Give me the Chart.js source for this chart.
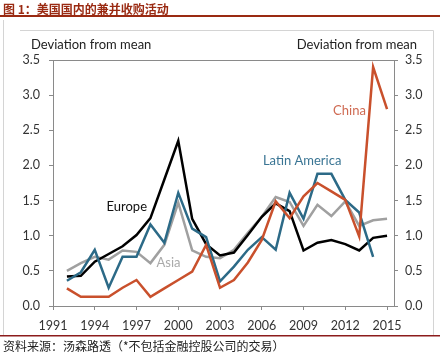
<!DOCTYPE html>
<html>
<head>
<meta charset="utf-8">
<script src="https://cdn.jsdelivr.net/npm/chart.js@4.4.1/dist/chart.umd.min.js"></script>
<style>
  html, body { margin: 0; padding: 0; background: #fff; }
  #wrap { position: relative; width: 440px; height: 355px; overflow: hidden; }
  #c { position: absolute; left: 0; top: 0; }
  #title { position: absolute; left: 3px; top: 0px; font: bold 12px "Noto Sans CJK SC", sans-serif; color: #9a2a12; line-height: 18px; white-space: nowrap; }
  #src { position: absolute; left: 3px; top: 337px; font: 12px "Noto Sans CJK SC", sans-serif; color: #222; line-height: 17px; white-space: nowrap; }
</style>
</head>
<body>
<div id="wrap">
  <canvas id="c" width="440" height="355"></canvas>
  <div id="title">图 1：美国国内的兼并收购活动</div>
  <div id="src">资料来源：汤森路透（*不包括金融控股公司的交易）</div>
</div>
<script>
const years = [1992,1993,1994,1995,1996,1997,1998,1999,2000,2001,2002,2003,2004,2005,2006,2007,2008,2009,2010,2011,2012,2013,2014,2015];
const europe = [0.42,0.43,0.63,0.74,0.85,1.01,1.25,1.80,2.35,1.24,0.88,0.72,0.76,1.01,1.27,1.46,1.35,0.79,0.90,0.94,0.88,0.79,0.97,1.00];
const latinAmerica = [0.36,0.48,0.80,0.26,0.70,0.70,1.16,0.90,1.61,1.10,0.98,0.35,0.56,0.80,0.98,0.80,1.61,1.24,1.88,1.88,1.51,1.33,0.70,null];
const asia = [0.50,0.61,0.70,0.66,0.79,0.77,0.61,0.87,1.47,0.79,0.70,0.68,0.80,1.04,1.27,1.55,1.48,1.14,1.44,1.28,1.49,1.14,1.22,1.24];
const china = [0.25,0.13,0.13,0.13,0.26,0.37,0.13,0.25,0.37,0.49,0.87,0.26,0.37,0.62,0.94,1.49,1.25,1.56,1.75,1.63,1.51,0.99,3.40,2.80];
const xTickLabels = [1991,1994,1997,2000,2003,2006,2009,2012,2015];
const yTickValues = [0,0.5,1,1.5,2,2.5,3,3.5];

const seriesNames = ['Europe','Latin America','Asia','China'];
const seriesColors = ['#000000','#2c6a87','#a0a0a0','#c9502c'];
const labelColors = ['#111111','#3a7594','#aaaaaa','#cf6a52'];
// label anchor points in data coordinates [year, value]
const labelYears = [1996.3, 2008.9, 1999.3, 2012.3];
const labelValues = [1.41, 2.07, 0.61, 2.77];

const seriesData = [europe, latinAmerica, asia, china];
const FONT = 'Lato, "Open Sans", sans-serif';

const datasets = seriesData.map((arr, i) => ({
  label: seriesNames[i],
  data: years.map((yr, j) => ({ x: yr, y: arr[j] })),
  borderColor: seriesColors[i],
  backgroundColor: seriesColors[i],
  borderWidth: 2.5,
  pointRadius: 0,
  tension: 0,
  spanGaps: false,
  yAxisID: 'y',
  order: [2,1,3,0][i]
}));

const decor = {
  id: 'decor',
  beforeDraw(chart) {
    const ctx = chart.ctx;
    ctx.save();
    ctx.fillStyle = '#9a2a12';
    ctx.fillRect(0, 15, 440, 2);
    ctx.strokeStyle = '#d4d4d4';
    ctx.lineWidth = 1;
    ctx.beginPath();
    ctx.moveTo(3.5, 20); ctx.lineTo(3.5, 336);
    ctx.moveTo(20, 30.5); ctx.lineTo(433.5, 30.5); ctx.lineTo(433.5, 336);
    ctx.stroke();
    ctx.fillStyle = '#8c1c1c';
    ctx.fillRect(0, 335, 440, 1.5);
    ctx.restore();
  },
  afterDraw(chart) {
    const ctx = chart.ctx;
    const a = chart.chartArea;
    const xs = chart.scales.x, ys = chart.scales.y;
    ctx.save();
    ctx.strokeStyle = '#8a8a8a';
    ctx.lineWidth = 1;
    ctx.beginPath();
    ctx.moveTo(a.left, Math.round(a.top) + 0.5);
    ctx.lineTo(a.right, Math.round(a.top) + 0.5);
    ctx.stroke();
    ctx.fillStyle = '#222';
    ctx.font = '13px ' + FONT;
    ctx.textBaseline = 'middle';
    ctx.textAlign = 'left';
    ctx.fillText('Deviation from mean', 31, 45);
    ctx.textAlign = 'right';
    ctx.fillText('Deviation from mean', 417, 45);
    ctx.textAlign = 'center';
    for (let i = 0; i < seriesNames.length; i++) {
      ctx.fillStyle = labelColors[i];
      ctx.fillText(seriesNames[i], xs.getPixelForValue(labelYears[i]), ys.getPixelForValue(labelValues[i]));
    }
    ctx.restore();
  }
};

const tickFont = { family: FONT, size: 12.5 };

new Chart(document.getElementById('c'), {
  type: 'line',
  data: { datasets },
  plugins: [decor],
  options: {
    responsive: false,
    animation: false,
    layout: { padding: { left: 0, right: 0, top: 60, bottom: 0 } },
    plugins: { legend: { display: false }, tooltip: { enabled: false }, title: { display: false } },
    scales: {
      x: {
        type: 'linear',
        min: 1991, max: 2015.5,
        afterBuildTicks: s => { s.ticks = xTickLabels.map(v => ({ value: v })); },
        afterFit: s => { s.height = 49; },
        ticks: { color: '#333', font: tickFont, padding: 8, maxRotation: 0, autoSkip: false, callback: v => String(v) },
        grid: { drawOnChartArea: false, drawTicks: true, tickLength: 4, color: '#8a8a8a' },
        border: { display: true, color: '#8a8a8a', width: 1 }
      },
      y: {
        position: 'left',
        min: 0, max: 3.5,
        afterBuildTicks: s => { s.ticks = yTickValues.map(v => ({ value: v })); },
        afterFit: s => { s.width = 53; },
        ticks: { color: '#333', font: tickFont, padding: 9, callback: v => Number(v).toFixed(1) },
        grid: { drawOnChartArea: false, drawTicks: true, tickLength: 4, color: '#8a8a8a' },
        border: { display: true, color: '#8a8a8a', width: 1 }
      },
      y2: {
        position: 'right',
        min: 0, max: 3.5,
        afterBuildTicks: s => { s.ticks = yTickValues.map(v => ({ value: v })); },
        afterFit: s => { s.width = 46; },
        ticks: { color: '#333', font: tickFont, padding: 7, callback: v => Number(v).toFixed(1) },
        grid: { drawOnChartArea: false, drawTicks: true, tickLength: 4, color: '#8a8a8a' },
        border: { display: true, color: '#8a8a8a', width: 1 }
      }
    }
  }
});
</script>
</body>
</html>
